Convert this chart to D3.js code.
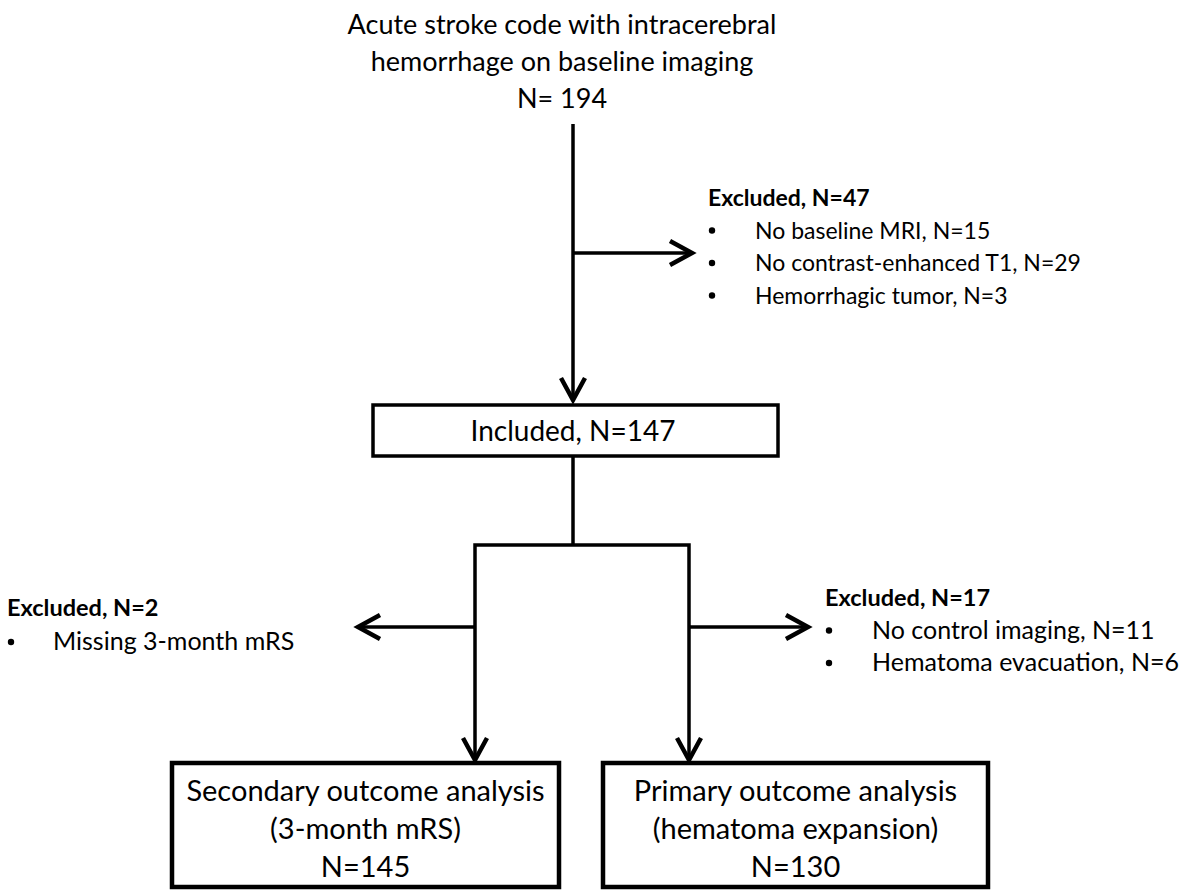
<!DOCTYPE html>
<html><head><meta charset="utf-8">
<script src="https://cdn.jsdelivr.net/npm/d3@7"></script>
<style>body{margin:0;background:#fff}svg{display:block}text{font-family:Lato,"Open Sans",sans-serif;fill:#000}</style>
</head><body>
<svg id="c" width="1183" height="891"></svg>
<script>
// ---- data ----
const titleLines = ["Acute stroke code with intracerebral", "hemorrhage on baseline imaging", "N= 194"];
const includedLabel = "Included, N=147";
const excl1Head = "Excluded, N=47";
const excl1Items = ["No baseline MRI, N=15", "No contrast-enhanced T1, N=29", "Hemorrhagic tumor, N=3"];
const excl2Head = "Excluded, N=2";
const excl2Items = ["Missing 3-month mRS"];
const excl3Head = "Excluded, N=17";
const excl3Items = ["No control imaging, N=11", "Hematoma evacuation, N=6"];
const secondaryLines = ["Secondary outcome analysis", "(3-month mRS)", "N=145"];
const primaryLines = ["Primary outcome analysis", "(hematoma expansion)", "N=130"];

// ---- layout ----
const svg = d3.select("#c");
const SW = 3.5;
const line = (pts) => svg.append("path").attr("d", d3.line()(pts))
  .attr("fill", "none").attr("stroke", "#000").attr("stroke-width", SW)
  .attr("stroke-linejoin", "miter").attr("stroke-linecap", "butt");
function arrowHead(x, y, dir) {
  const L = 22, H = 12;
  let pts;
  if (dir === "down") pts = [[x - H, y - L], [x, y], [x + H, y - L]];
  if (dir === "right") pts = [[x - L, y - H], [x, y], [x - L, y + H]];
  if (dir === "left") pts = [[x + L, y - H], [x, y], [x + L, y + H]];
  svg.append("path").attr("d", d3.line()(pts)).attr("fill", "none")
    .attr("stroke", "#000").attr("stroke-width", 4.5).attr("stroke-linejoin", "miter")
    .attr("stroke-miterlimit", 10);
}
function centeredLines(lines, cx, y0, dy, size) {
  svg.append("g").selectAll("text").data(lines).join("text")
    .attr("x", cx).attr("y", (d, i) => y0 + i * dy)
    .attr("text-anchor", "middle").attr("font-size", size).text(d => d);
}
function exclList(head, items, x, y0, dy, textX, headSize, itemSize) {
  svg.append("text").attr("x", x).attr("y", y0).attr("font-size", headSize)
    .attr("font-weight", "bold").text(head);
  const g = svg.append("g");
  g.selectAll("circle").data(items).join("circle")
    .attr("cx", x + 4).attr("cy", (d, i) => y0 + (i + 1) * dy - 8).attr("r", 3.2).attr("fill", "#000");
  g.selectAll("text").data(items).join("text")
    .attr("x", textX).attr("y", (d, i) => y0 + (i + 1) * dy)
    .attr("font-size", itemSize).text(d => d);
}

const cx = 573;
// title
centeredLines(titleLines, 562, 34, 37, 27);
// main trunk
line([[cx, 124], [cx, 400]]);
arrowHead(cx, 400, "down");
// branch to excluded 1
line([[cx, 253], [692, 253]]);
arrowHead(692, 253, "right");
exclList(excl1Head, excl1Items, 708, 206, 32.5, 755, 23, 23);

// included box
svg.append("rect").attr("x", 373).attr("y", 405).attr("width", 405).attr("height", 51)
  .attr("fill", "#fff").attr("stroke", "#000").attr("stroke-width", SW);
svg.append("text").attr("x", cx).attr("y", 441).attr("text-anchor", "middle")
  .attr("font-size", 28).text(includedLabel);

// split
const lx = 475, rx = 689;
line([[cx, 456], [cx, 545]]);
line([[lx, 760], [lx, 545], [rx, 545], [rx, 760]]);
arrowHead(lx, 760, "down");
arrowHead(rx, 760, "down");
// side arrows
line([[lx, 627], [358, 627]]);
arrowHead(358, 627, "left");
line([[rx, 627], [808, 627]]);
arrowHead(808, 627, "right");
exclList(excl2Head, excl2Items, 7, 616, 34, 53, 23.5, 25);
exclList(excl3Head, excl3Items, 825, 606, 32.5, 872, 23.5, 25);

// bottom boxes
const boxes = [
  {x: 172, w: 387, lines: secondaryLines},
  {x: 603, w: 385, lines: primaryLines}
];
boxes.forEach(b => {
  svg.append("rect").attr("x", b.x).attr("y", 763).attr("width", b.w).attr("height", 124)
    .attr("fill", "#fff").attr("stroke", "#000").attr("stroke-width", 4.5);
  centeredLines(b.lines, b.x + b.w / 2, 801, 38, 29);
});
</script>
</body></html>
